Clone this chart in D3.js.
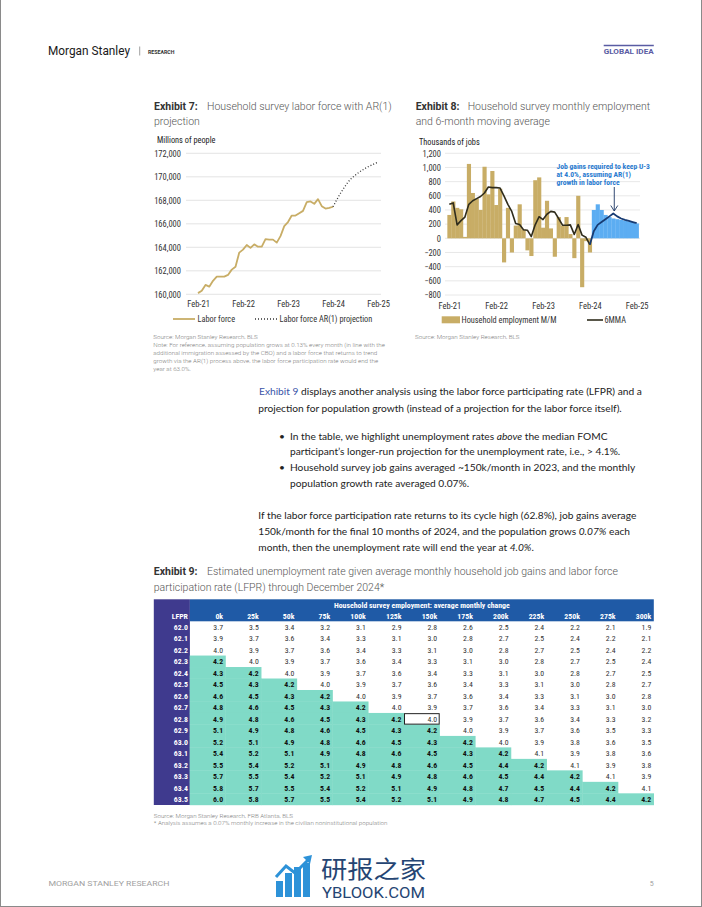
<!DOCTYPE html>
<html><head><meta charset="utf-8">
<script src="https://cdn.jsdelivr.net/npm/d3@7"></script>
<style>html,body{margin:0;padding:0;background:#fff;} svg{display:block;}</style>
</head><body>
<svg id="page" width="702" height="907" xmlns="http://www.w3.org/2000/svg"></svg>
<script>
// ===================== DATA =====================
const monthTickLabels = ["Feb-21","Feb-22","Feb-23","Feb-24","Feb-25"];
// Exhibit 7: household survey labor force (thousands), Feb-21 .. Feb-24
const laborForce = [160100,160300,160800,160650,161150,161500,161500,161500,161650,162100,162350,
  163550,163800,164200,163950,164250,164050,164050,164700,164650,164650,164400,164950,
  165800,166150,166700,166700,166900,167100,167850,167900,167700,168100,167500,167300,167350,167450];
// AR(1) projection, Feb-24 .. Feb-25
const laborForceProjection = [167450,168050,168600,169100,169550,169900,170150,170400,170600,170800,170950,171100,171250];
const laborForceTicks = [160000,162000,164000,166000,168000,170000,172000];

// Exhibit 8: household employment M/M (thousands), Feb-21 .. Feb-24
const employmentChange = [330,520,430,410,20,1050,640,560,400,1010,620,950,
  470,700,-340,430,-200,180,480,120,-170,-250,820,
  860,150,530,140,-260,300,180,300,60,-280,600,-690,-40,-200];
const employment6MMA = [480,500,190,250,300,480,530,560,590,640,725,715,
  715,710,600,480,380,210,195,120,115,25,190,
  305,265,340,380,370,280,185,185,190,55,195,45,15,-90];
// Job gains required to keep U-3 at 4.0%, Mar-24 .. Feb-25
const requiredGains = [400,480,400,330,300,280,270,260,250,240,230,210];
// 6MMA of the required path, Feb-24 .. Feb-25
const required6MMA = [-90,100,190,230,270,310,350,310,280,260,245,230,215];
const employmentTicks = [-800,-600,-400,-200,0,200,400,600,800,1000,1200];

// Exhibit 9 table
const tableCols = ["0k","25k","50k","75k","100k","125k","150k","175k","200k","225k","250k","275k","300k"];
const tableLFPR = ["62.0","62.1","62.2","62.3","62.4","62.5","62.6","62.7","62.8","62.9","63.0","63.1","63.2","63.3","63.4","63.5"];
const tableValues = [
  [3.7,3.5,3.4,3.2,3.1,2.9,2.8,2.6,2.5,2.4,2.2,2.1,1.9],
  [3.9,3.7,3.6,3.4,3.3,3.1,3.0,2.8,2.7,2.5,2.4,2.2,2.1],
  [4.0,3.9,3.7,3.6,3.4,3.3,3.1,3.0,2.8,2.7,2.5,2.4,2.2],
  [4.2,4.0,3.9,3.7,3.6,3.4,3.3,3.1,3.0,2.8,2.7,2.5,2.4],
  [4.3,4.2,4.0,3.9,3.7,3.6,3.4,3.3,3.1,3.0,2.8,2.7,2.5],
  [4.5,4.3,4.2,4.0,3.9,3.7,3.6,3.4,3.3,3.1,3.0,2.8,2.7],
  [4.6,4.5,4.3,4.2,4.0,3.9,3.7,3.6,3.4,3.3,3.1,3.0,2.8],
  [4.8,4.6,4.5,4.3,4.2,4.0,3.9,3.7,3.6,3.4,3.3,3.1,3.0],
  [4.9,4.8,4.6,4.5,4.3,4.2,4.0,3.9,3.7,3.6,3.4,3.3,3.2],
  [5.1,4.9,4.8,4.6,4.5,4.3,4.2,4.0,3.9,3.7,3.6,3.5,3.3],
  [5.2,5.1,4.9,4.8,4.6,4.5,4.3,4.2,4.0,3.9,3.8,3.6,3.5],
  [5.4,5.2,5.1,4.9,4.8,4.6,4.5,4.3,4.2,4.1,3.9,3.8,3.6],
  [5.5,5.4,5.2,5.1,4.9,4.8,4.6,4.5,4.4,4.2,4.1,3.9,3.8],
  [5.7,5.5,5.4,5.2,5.1,4.9,4.8,4.6,4.5,4.4,4.2,4.1,3.9],
  [5.8,5.7,5.5,5.4,5.2,5.1,4.9,4.8,4.7,4.5,4.4,4.2,4.1],
  [6.0,5.8,5.7,5.5,5.4,5.2,5.1,4.9,4.8,4.7,4.5,4.4,4.2]
];
const highlightAbove = 4.1;
const boxedLFPR = "62.8", boxedCol = "150k";

// ===================== STYLE =====================
const CH = "'Liberation Sans Narrow','Roboto Condensed',Roboto,sans-serif";
const TI = "Roboto,sans-serif";
const BODY = "Lato,sans-serif";
const GOLD = "#c8ad66", BLUEFILL = "#5cadf2", DARKLINE = "#2f2c1c", NAVY = "#173b73";
const PURPLE = "#3f3a8e", HBLUE = "#1f5aa6", GREEN = "#80dac7";

const svg = d3.select("#page");

function T(parent, x, y, s, o = {}) {
  const t = parent.append("text").attr("x", x).attr("y", y).text(s)
    .attr("font-family", o.f || TI).attr("font-size", o.s || 10)
    .attr("fill", o.c || "#222");
  if (o.w) t.attr("font-weight", o.w);
  if (o.a) t.attr("text-anchor", o.a);
  if (o.st) t.attr("font-style", o.st);
  if (o.len) t.attr("textLength", o.len).attr("lengthAdjust", "spacingAndGlyphs");
  if (o.ls) t.attr("letter-spacing", o.ls);
  return t;
}

// ===================== PAGE FRAME / HEADER / FOOTER =====================
svg.append("line").attr("x1",0.5).attr("x2",0.5).attr("y1",0).attr("y2",907).attr("stroke","#8a8a8a");
svg.append("line").attr("x1",701.5).attr("x2",701.5).attr("y1",0).attr("y2",907).attr("stroke","#8a8a8a");
svg.append("line").attr("x1",0).attr("x2",702).attr("y1",906.5).attr("y2",906.5).attr("stroke","#8a8a8a");

T(svg, 48, 55, "Morgan Stanley", {s:13, c:"#1a1a1a", len:82});
svg.append("line").attr("x1",139.7).attr("x2",139.7).attr("y1",46.5).attr("y2",55.5).attr("stroke","#777").attr("stroke-width",0.7);
T(svg, 148, 53.5, "RESEARCH", {s:5, w:700, c:"#333", len:26.5});
svg.append("line").attr("x1",603.7).attr("x2",653.8).attr("y1",45.5).attr("y2",45.5).attr("stroke","#5a5ca3").attr("stroke-width",1.4);
T(svg, 603.7, 54, "GLOBAL IDEA", {s:6.8, w:700, c:"#5a5ca3", len:50});

T(svg, 48.4, 885.5, "MORGAN STANLEY RESEARCH", {s:7, c:"#a0a0a0", len:121});
T(svg, 651.6, 885.5, "5", {s:7, c:"#a0a0a0", a:"middle"});

// watermark
const wm = svg.append("g");
const wmBars = [[276,16],[285,24],[294,30],[303,34]];
wm.selectAll("rect").data(wmBars).join("rect")
  .attr("x", d => d[0]).attr("width", 7).attr("y", d => 897 - d[1]).attr("height", d => d[1]).attr("fill", "#2d92d8");
wm.append("path").attr("d","M276,877 L286,866 L295,873 L309,859").attr("fill","none").attr("stroke","#2d92d8").attr("stroke-width",3);
wm.append("path").attr("d","M303,857 L312,855 L310,864 Z").attr("fill","#2d92d8");
T(wm, 321, 877.5, "研报之家", {f:"'Noto Sans CJK SC',sans-serif", s:23.5, c:"#254573", len:105});
T(wm, 322, 898, "YBLOOK.COM", {f:"Roboto,sans-serif", s:14, c:"#254573", len:103});

// ===================== EXHIBIT 7 =====================
const e7 = svg.append("g");
T(e7, 154, 109.5, "Exhibit 7:", {s:10.5, w:700, c:"#333"});
T(e7, 207, 109.5, "Household survey labor force with AR(1)", {s:10.5, w:300, c:"#555"});
T(e7, 154, 125, "projection", {s:10.5, w:300, c:"#555"});
T(e7, 157, 143, "Millions of people", {f:CH, s:8.3, c:"#222"});

const x7 = d3.scaleLinear().domain([0, 48]).range([198, 378]);
const y7 = d3.scaleLinear().domain([160000, 172000]).range([294.3, 153.3]);
e7.append("g").selectAll("line").data(laborForceTicks).join("line")
  .attr("x1", 186).attr("x2", 381).attr("y1", d => y7(d)).attr("y2", d => y7(d))
  .attr("stroke", "#dcdcdc").attr("stroke-width", 0.8);
const ay7 = e7.append("g").attr("transform", "translate(181,0)")
  .call(d3.axisLeft(y7).tickValues(laborForceTicks).tickFormat(d3.format(",")).tickSize(0).tickPadding(0));
ay7.select(".domain").remove();
ay7.attr("font-family", CH).attr("font-size", 8.5);
ay7.selectAll("text").attr("fill", "#333");
const ax7 = e7.append("g").attr("transform", "translate(0,294.3)")
  .call(d3.axisBottom(x7).tickValues([0,12,24,36,48]).tickFormat((d,i) => monthTickLabels[i]).tickSize(0).tickPadding(7));
ax7.select(".domain").remove();
ax7.attr("font-family", CH).attr("font-size", 8.5);
ax7.selectAll("text").attr("fill", "#333");

e7.append("path").datum(laborForce)
  .attr("d", d3.line().x((d, i) => x7(i)).y(d => y7(d)))
  .attr("fill", "none").attr("stroke", GOLD).attr("stroke-width", 1.8).attr("stroke-linejoin", "round");
e7.append("path").datum(laborForceProjection)
  .attr("d", d3.line().x((d, i) => x7(36 + i)).y(d => y7(d)))
  .attr("fill", "none").attr("stroke", "#333").attr("stroke-width", 1.3).attr("stroke-dasharray", "1,2");
// legend
e7.append("line").attr("x1",173).attr("x2",195).attr("y1",319).attr("y2",319).attr("stroke",GOLD).attr("stroke-width",1.8);
T(e7, 197.5, 322, "Labor force", {f:CH, s:8.3, c:"#333"});
e7.append("line").attr("x1",255).attr("x2",277).attr("y1",319).attr("y2",319).attr("stroke","#333").attr("stroke-width",1.3).attr("stroke-dasharray","1,2");
T(e7, 279.5, 322, "Labor force AR(1) projection", {f:CH, s:8.3, c:"#333"});
// source & note
const noteLines = [
  "Source: Morgan Stanley Research, BLS",
  "Note: For reference, assuming population grows at 0.13% every month (in line with the",
  "additional immigration assessed by the CBO) and a labor force that returns to trend",
  "growth via the AR(1) process above, the labor force participation rate would end the",
  "year at 63.0%."
];
noteLines.forEach((s, i) => T(e7, 153.3, 339.2 + i * 8, s, {s:6.2, w:300, c:"#808080"}));

// ===================== EXHIBIT 8 =====================
const e8 = svg.append("g");
T(e8, 415.7, 109.5, "Exhibit 8:", {s:10.5, w:700, c:"#333"});
T(e8, 467.7, 109.5, "Household survey monthly employment", {s:10.5, w:300, c:"#555"});
T(e8, 415.7, 125, "and 6-month moving average", {s:10.5, w:300, c:"#555"});
T(e8, 419, 145, "Thousands of jobs", {f:CH, s:8.3, c:"#222"});

const x8 = d3.scaleLinear().domain([0, 48]).range([449.3, 636.7]);
const y8 = d3.scaleLinear().domain([-800, 1200]).range([295, 153.3]);
const bw = x8(1) - x8(0);
e8.append("g").selectAll("line").data(employmentTicks).join("line")
  .attr("x1", 445).attr("x2", 640).attr("y1", d => y8(d)).attr("y2", d => y8(d))
  .attr("stroke", "#e2e2e2").attr("stroke-width", 0.8);
const ay8 = e8.append("g").attr("transform", "translate(441,0)")
  .call(d3.axisLeft(y8).tickValues(employmentTicks).tickFormat(d3.format(",")).tickSize(0).tickPadding(0));
ay8.select(".domain").remove();
ay8.attr("font-family", CH).attr("font-size", 8.5);
ay8.selectAll("text").attr("fill", "#333");
const ax8 = e8.append("g").attr("transform", "translate(0,295)")
  .call(d3.axisBottom(x8).tickValues([0,12,24,36,48]).tickFormat((d,i) => monthTickLabels[i]).tickSize(0).tickPadding(8));
ax8.select(".domain").remove();
ax8.attr("font-family", CH).attr("font-size", 8.5);
ax8.selectAll("text").attr("fill", "#333");

e8.append("g").selectAll("rect").data(employmentChange).join("rect")
  .attr("x", (d, i) => x8(i) - bw / 2).attr("width", bw + 0.25)
  .attr("y", d => y8(Math.max(0, d))).attr("height", d => Math.abs(y8(d) - y8(0)))
  .attr("fill", GOLD);
e8.append("g").selectAll("rect").data(requiredGains).join("rect")
  .attr("x", (d, i) => x8(37 + i) - bw / 2).attr("width", bw + 0.25)
  .attr("y", d => y8(Math.max(0, d))).attr("height", d => Math.abs(y8(d) - y8(0)))
  .attr("fill", BLUEFILL);
e8.append("path").datum(employment6MMA)
  .attr("d", d3.line().x((d, i) => x8(i)).y(d => y8(d)))
  .attr("fill", "none").attr("stroke", DARKLINE).attr("stroke-width", 1.6).attr("stroke-linejoin", "round");
e8.append("path").datum(required6MMA)
  .attr("d", d3.line().x((d, i) => x8(36 + i)).y(d => y8(d)))
  .attr("fill", "none").attr("stroke", NAVY).attr("stroke-width", 1.8).attr("stroke-linejoin", "round");
// annotation
["Job gains required to keep U-3", "at 4.0%, assuming AR(1)", "growth in labor force"].forEach((s, i) =>
  T(e8, 556.5, 168.5 + i * 8.3, s, {f:CH, s:7.6, w:700, c:"#2a7bd0"}));
const ax = x8(42) + 1;
e8.append("path").attr("d", `M${ax},187 L${ax},${y8(350) - 2.5} M${ax - 3.5},${y8(350) - 8} L${ax},${y8(350) - 2.5} L${ax + 3.5},${y8(350) - 8}`)
  .attr("fill", "none").attr("stroke", "#1b3563").attr("stroke-width", 0.9);
// legend
e8.append("rect").attr("x",441.7).attr("y",316.3).attr("width",18.3).attr("height",7).attr("fill",GOLD);
T(e8, 461.5, 323, "Household employment M/M", {f:CH, s:8.3, c:"#333"});
e8.append("line").attr("x1",587).attr("x2",603).attr("y1",320).attr("y2",320).attr("stroke",DARKLINE).attr("stroke-width",1.6);
T(e8, 604.5, 323, "6MMA", {f:CH, s:8.3, c:"#333"});
T(e8, 415, 339.2, "Source: Morgan Stanley Research, BLS", {s:6.2, w:300, c:"#808080"});

// ===================== BODY TEXT =====================
const body = svg.append("g").attr("font-family", BODY).attr("font-size", 10.2).attr("fill", "#222");
function para(x, y, parts) {
  const t = body.append("text").attr("x", x).attr("y", y);
  parts.forEach(p => {
    const ts = t.append("tspan").text(p.t);
    if (p.i) ts.attr("font-style", "italic");
    if (p.c) ts.attr("fill", p.c);
  });
  return t;
}
para(259, 395.2, [{t:"Exhibit 9", c:"#3a54a8"}, {t:"  displays another analysis using the labor force participating rate (LFPR) and a"}]);
para(258.3, 411.5, [{t:"projection for population growth (instead of a projection for the labor force itself)."}]);
[439.5, 471.2].forEach(y => body.append("text").attr("x", 279).attr("y", y).text("•"));
para(290, 439.5, [{t:"In the table, we highlight unemployment rates "}, {t:"above", i:true}, {t:" the median FOMC"}]);
para(290, 455.3, [{t:"participant’s longer-run projection for the unemployment rate, i.e., > 4.1%."}]);
para(290, 471.2, [{t:"Household survey job gains averaged ~150k/month in 2023, and the monthly"}]);
para(290, 487, [{t:"population growth rate averaged 0.07%."}]);
para(258.3, 518.6, [{t:"If the labor force participation rate returns to its cycle high (62.8%), job gains average"}]);
para(258.3, 534.9, [{t:"150k/month for the final 10 months of 2024, and the population grows "}, {t:"0.07%", i:true}, {t:" each"}]);
para(258.3, 551, [{t:"month, then the unemployment rate will end the year at "}, {t:"4.0%", i:true}, {t:"."}]);

// ===================== EXHIBIT 9 TABLE =====================
const e9 = svg.append("g");
T(e9, 153.8, 575.3, "Exhibit 9:", {s:10.5, w:700, c:"#333"});
T(e9, 207, 575.3, "Estimated unemployment rate given average monthly household job gains and labor force", {s:10.5, w:300, c:"#555"});
T(e9, 153.8, 591.3, "participation rate (LFPR) through December 2024*", {s:10.5, w:300, c:"#555"});

const tLeft = 153.8, tColStart = 189.9, tRight = 653.8, tTop = 599.3, tBodyTop = 621.3, tBottom = 805;
const tx = d3.scaleBand().domain(tableCols).range([tColStart, tRight]);
const ty = d3.scaleBand().domain(tableLFPR).range([tBodyTop, tBottom]);
e9.append("rect").attr("x", tLeft).attr("y", tTop).attr("width", tColStart - tLeft).attr("height", tBottom - tTop).attr("fill", PURPLE);
e9.append("rect").attr("x", tColStart).attr("y", tTop).attr("width", tRight - tColStart).attr("height", tBodyTop - tTop).attr("fill", HBLUE);
T(e9, (tColStart + tRight) / 2, 607.6, "Household survey employment: average monthly change", {f:CH, s:7.8, w:700, c:"#fff", a:"middle"});
T(e9, tColStart - 2, 618.8, "LFPR", {f:CH, s:7.8, w:700, c:"#fff", a:"end"});
e9.append("g").selectAll("text").data(tableCols).join("text")
  .attr("x", d => tx(d) + tx.bandwidth() - 2.5).attr("y", 618.8).attr("text-anchor", "end")
  .attr("font-family", CH).attr("font-size", 7.8).attr("font-weight", 700).attr("fill", "#fff").text(d => d);

const cells = tableValues.flatMap((row, r) => row.map((v, c) => ({ lfpr: tableLFPR[r], col: tableCols[c], v })));
e9.append("g").selectAll("rect").data(cells.filter(d => d.v > highlightAbove)).join("rect")
  .attr("x", d => tx(d.col) - 0.2).attr("y", d => ty(d.lfpr) - 0.2)
  .attr("width", tx.bandwidth() + 0.4).attr("height", ty.bandwidth() + 0.4).attr("fill", GREEN);
e9.append("g").selectAll("text").data(tableLFPR).join("text")
  .attr("x", tColStart - 2).attr("y", d => ty(d) + ty.bandwidth() / 2 + 2.8).attr("text-anchor", "end")
  .attr("font-family", CH).attr("font-size", 7.8).attr("font-weight", 700).attr("fill", "#fff").text(d => d);
e9.append("g").selectAll("text").data(cells).join("text")
  .attr("x", d => tx(d.col) + tx.bandwidth() - 2.5).attr("y", d => ty(d.lfpr) + ty.bandwidth() / 2 + 2.8)
  .attr("text-anchor", "end").attr("font-family", CH).attr("font-size", 7.8)
  .attr("font-weight", d => d.v > highlightAbove ? 700 : 400)
  .attr("fill", d => d.v > highlightAbove ? "#111" : "#333")
  .text(d => d3.format(".1f")(d.v));
e9.append("rect").attr("x", tx(boxedCol) + 0.5).attr("y", ty(boxedLFPR) + 0.5)
  .attr("width", tx.bandwidth() - 1).attr("height", ty.bandwidth() - 1)
  .attr("fill", "none").attr("stroke", "#222").attr("stroke-width", 1);
T(e9, 153.8, 817.5, "Source: Morgan Stanley Research, FRB Atlanta, BLS", {s:6.2, w:300, c:"#808080"});
T(e9, 153.8, 825.2, "* Analysis assumes a 0.07% monthly increase in the civilian noninstitutional population", {s:6.2, w:300, c:"#808080"});
</script>
</body></html>
